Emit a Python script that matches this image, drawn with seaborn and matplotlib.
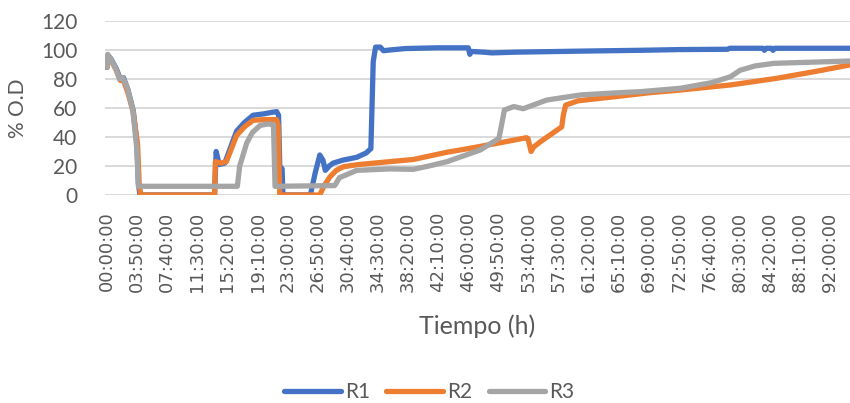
import matplotlib
matplotlib.use("Agg")
import matplotlib.pyplot as plt
import seaborn as sns
import pandas as pd
from matplotlib.lines import Line2D

# ---------------- data (hours, % O.D) ----------------
r1_t = [0, 0.1, 0.5, 1.2, 1.7, 2.1, 2.7, 3.35, 3.8, 4.0, 4.2, 13.7, 13.9, 14.3, 15.0, 16.5, 17.5,
        18.6, 20.0, 21.0, 21.6, 21.85, 22.0, 22.3, 22.4, 25.9, 26.5, 27.1, 27.5, 27.8, 28.3, 28.8,
        30.0, 31.8, 33.0, 33.6, 33.9, 34.2, 34.8, 35.2, 36.0, 38.0, 42.0, 46.0, 46.2, 46.4, 48.0,
        49.0, 52.0, 60.0, 68.0, 73.0, 79.0, 79.3, 83.5, 83.7, 83.9, 84.6, 84.8, 85.0, 94.6]
r1_v = [88, 96, 94, 87, 80, 81, 72, 58, 36, 8, 0, 0, 30, 21, 22, 44, 50,
        55, 56, 57, 57.5, 55, 20, 18, 0, 0, 15, 27.6, 24, 17, 20, 22,
        24, 26, 29, 32, 92, 102, 102, 99.5, 100, 101, 101.5, 101.5, 97, 99, 98.5,
        98, 98.5, 99.2, 99.8, 100.3, 100.5, 101.2, 101.2, 99.8, 101.2, 101.2, 99.8, 101.2, 101.2]

r2_t = [0, 0.1, 0.5, 1.2, 1.7, 2.1, 2.7, 3.35, 3.9, 4.1, 4.3, 13.7, 13.8, 14.5, 15.2, 16.5, 17.5,
        18.6, 20.0, 21.6, 21.8, 22.0, 27.1, 27.6, 28.4, 29.2, 30.1, 32.0, 34.0, 36.0, 39.0, 43.3,
        46.0, 49.0, 51.0, 53.4, 53.6, 54.0, 54.3, 55.2, 57.9, 58.1, 58.4, 60.0, 65.0, 69.0, 73.0,
        79.4, 85.3, 90.0, 94.6]
r2_v = [88, 95, 93, 86, 79, 79, 70, 57, 35, 8, 0, 0, 23, 22, 23, 41, 47,
        51.5, 52, 52, 48, 0, 0, 6, 12.6, 17, 19.5, 21, 22, 23, 24.5, 29.5,
        32, 35, 37, 39.5, 39, 30, 33, 36.8, 47, 55, 62, 65, 68, 70.5, 72.4,
        75.9, 80.5, 85, 89.7]

r3_t = [0, 0.1, 0.5, 1.2, 1.6, 2.0, 2.6, 3.3, 3.8, 4.0, 16.6, 16.9, 17.8, 18.5, 19.5, 20.5, 21.2,
        21.4, 29.0, 29.6, 30.5, 31.8, 36.0, 39.0, 41.0, 43.3, 47.5, 49.9, 50.3, 50.6, 51.8, 53.0,
        56.0, 60.3, 65.0, 68.0, 73.0, 77.0, 79.4, 80.6, 82.5, 84.9, 94.6]
r3_v = [88, 97, 94, 86, 80, 81, 74, 58, 32, 6, 6, 20, 36, 43, 48, 49, 48.5,
        6, 6.5, 12, 14, 17, 18, 17.7, 20, 23, 31, 39, 50, 58.6, 61, 59.5,
        65.5, 69, 70.5, 71.3, 73.6, 77.5, 81.6, 86, 89, 90.8, 92.4]

series_names = ["R1", "R2", "R3"]
colors = ["#4472C4", "#ED7D31", "#A5A5A5"]

tick_labels = ["00:00:00", "03:50:00", "07:40:00", "11:30:00", "15:20:00", "19:10:00",
               "23:00:00", "26:50:00", "30:40:00", "34:30:00", "38:20:00", "42:10:00",
               "46:00:00", "49:50:00", "53:40:00", "57:30:00", "61:20:00", "65:10:00",
               "69:00:00", "72:50:00", "76:40:00", "80:30:00", "84:20:00", "88:10:00",
               "92:00:00"]
y_ticks = [0, 20, 40, 60, 80, 100, 120]

# ---------------- build frame ----------------
frames = []
for name, t, v in zip(series_names, [r1_t, r2_t, r3_t], [r1_v, r2_v, r3_v]):
    frames.append(pd.DataFrame({"t": t, "v": v, "serie": name}))
df = pd.concat(frames, ignore_index=True)

def to_hours(s):
    h, m, sec = s.split(":")
    return int(h) + int(m) / 60 + int(sec) / 3600

tick_pos = [to_hours(s) for s in tick_labels]

# ---------------- plot ----------------
sns.set_theme(style="white")
plt.rcParams["font.family"] = ["Lato", "DejaVu Sans"]

fig = plt.figure(figsize=(8.5, 4.03), dpi=100)
ax = fig.add_axes([105 / 850, 1 - 195 / 403, 1 - 105 / 850, (195 - 21) / 403])

sns.lineplot(data=df, x="t", y="v", hue="serie", palette=colors, hue_order=series_names,
             estimator=None, sort=False, linewidth=3.8, ax=ax, legend=False,
             solid_capstyle="round", solid_joinstyle="round")

ax.set_xlim(-0.25, 94.6)
ax.set_ylim(0, 120)
ax.set_yticks(y_ticks)
ax.set_yticklabels([str(v) for v in y_ticks], fontsize=15, color="#595959")
ax.set_xticks(tick_pos)
ax.set_xticklabels(tick_labels, rotation=90, fontsize=13, color="#595959",
                   family="DejaVu Sans")
ax.tick_params(axis="both", length=0)
ax.tick_params(axis="x", pad=12)
ax.tick_params(axis="y", pad=20)

ax.grid(axis="y", color="#D9D9D9", linewidth=1.4)
ax.grid(axis="x", visible=False)
ax.set_axisbelow(True)
for s in ax.spines.values():
    s.set_visible(False)

ax.set_ylabel("% O.D", fontsize=15, color="#595959", labelpad=9)
ax.set_xlabel("Tiempo (h)", fontsize=18, color="#595959", labelpad=16)

handles = [Line2D([0], [0], color=c, linewidth=3.8, solid_capstyle="round") for c in colors]
fig.legend(handles, series_names, loc="center", bbox_to_anchor=(0.505, 1 - 392 / 403),
           ncol=3, frameon=False, fontsize=15, handlelength=2.7, handletextpad=0.2,
           columnspacing=0.8, labelcolor="#595959")

fig.savefig("out.png", dpi=100)
